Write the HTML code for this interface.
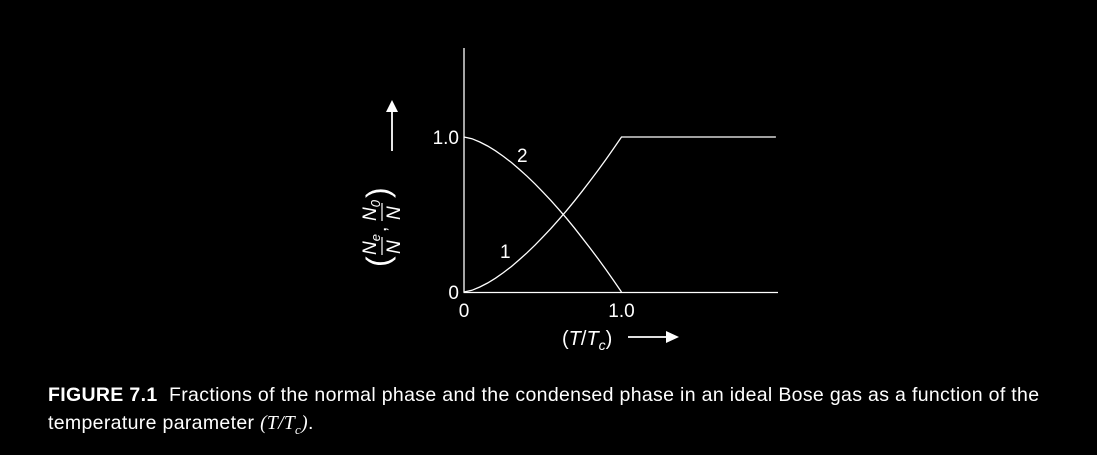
<!DOCTYPE html>
<html><head><meta charset="utf-8"><style>
html,body{margin:0;padding:0;background:#000;width:1097px;height:455px;overflow:hidden}
svg text{font-family:"Liberation Sans",sans-serif;fill:#fff}
.cap{position:absolute;left:48px;top:381px;width:1005px;color:#fff;font-family:"Liberation Sans",sans-serif;font-size:19.5px;line-height:28px;letter-spacing:0.33px}
</style></head><body>
<svg width="1097" height="380" style="position:absolute;left:0;top:0">
<g id="g"></g>
</svg>
<div class="cap"><b>FIGURE 7.1</b>&nbsp; Fractions of the normal phase and the condensed phase in an ideal Bose gas as a function of the temperature parameter <span style="font-family:'Liberation Serif',serif;font-style:italic">(T/T<sub style="font-size:13px">c</sub>)</span>.</div>
<script>
const tValues=[0,0.05,0.1,0.15,0.2,0.25,0.3,0.35,0.4,0.45,0.5,0.55,0.6,0.65,0.7,0.75,0.8,0.85,0.9,0.95,1.0,1.98];
const normalFraction=[0,0.011,0.032,0.058,0.089,0.125,0.164,0.207,0.253,0.302,0.354,0.408,0.465,0.524,0.586,0.650,0.716,0.784,0.854,0.926,1.0,1.0];
const condensedTValues=[0,0.05,0.1,0.15,0.2,0.25,0.3,0.35,0.4,0.45,0.5,0.55,0.6,0.65,0.7,0.75,0.8,0.85,0.9,0.95,1.0];
const condensedFraction=[1,0.989,0.968,0.942,0.911,0.875,0.836,0.793,0.747,0.698,0.646,0.592,0.535,0.476,0.414,0.350,0.284,0.216,0.146,0.074,0];
const xTicks=["0","1.0"];const xTickVals=[0,1];
const yTicks=["0","1.0"];const yTickVals=[0,1];
const X=t=>464+t*157.5, Y=v=>292-v*155;
const NS="http://www.w3.org/2000/svg", g=document.getElementById('g');
function mk(tag,a){const e=document.createElementNS(NS,tag);for(const k in a)e.setAttribute(k,a[k]);g.appendChild(e);return e;}
let e;
e=mk('line',{x1:464,y1:48,x2:464,y2:292.5,stroke:'#fff','stroke-width':1.3});

e=mk('line',{x1:463.5,y1:292.5,x2:778,y2:292.5,stroke:'#fff','stroke-width':1.3});

xTickVals.forEach((v,i)=>{e=mk('text',{x:X(v),y:317,'font-size':19,'text-anchor':'middle'});e.textContent=xTicks[i];
});
yTickVals.forEach((v,i)=>{e=mk('text',{x:459,y:Y(v)+7,'font-size':19,'text-anchor':'end'});e.textContent=yTicks[i];
});
function path(xs,ys){return xs.map((t,i)=>(i?'L':'M')+X(t).toFixed(1)+','+Y(ys[i]).toFixed(1)).join('');}
e=mk('path',{d:path(tValues,normalFraction),fill:'none',stroke:'#fff','stroke-width':1.3});

e=mk('path',{d:path(condensedTValues,condensedFraction),fill:'none',stroke:'#fff','stroke-width':1.3});

e=mk('text',{x:500,y:258,'font-size':19});e.textContent='1';

e=mk('text',{x:517,y:162,'font-size':19});e.textContent='2';

</script>
<svg width="1097" height="380" style="position:absolute;left:0;top:0">
<g transform="translate(382,225) rotate(-90)" font-family="Liberation Sans,sans-serif" fill="#fff">
<text x="-42" y="7" font-size="32" fill="#fff">(</text>
<text x="-30" y="-6" font-size="19" font-style="italic" fill="#fff">N<tspan font-size="13" dy="4">e</tspan></text>
<line x1="-30" y1="0" x2="-12" y2="0" stroke="#fff" stroke-width="1.2"/>
<text x="-29" y="18" font-size="19" font-style="italic" fill="#fff">N</text>
<text x="-7" y="4" font-size="19" fill="#fff">,</text>
<text x="4" y="-6" font-size="19" font-style="italic" fill="#fff">N<tspan font-size="13" dy="4">0</tspan></text>
<line x1="4" y1="0" x2="22" y2="0" stroke="#fff" stroke-width="1.2"/>
<text x="5" y="18" font-size="19" font-style="italic" fill="#fff">N</text>
<text x="27" y="7" font-size="32" fill="#fff">)</text>
</g>
<line x1="392" y1="151" x2="392" y2="110" stroke="#fff" stroke-width="1.8"/>
<polygon points="386,112 398,112 392,100" fill="#fff"/>
<text x="562" y="345" font-size="20" fill="#fff" font-family="Liberation Sans,sans-serif">(<tspan font-style="italic">T</tspan>/<tspan font-style="italic">T</tspan><tspan font-size="14" dy="5" font-style="italic">c</tspan><tspan dy="-5">)</tspan></text>
<line x1="628" y1="337" x2="668" y2="337" stroke="#fff" stroke-width="1.8"/>
<polygon points="666,331 666,343 679,337" fill="#fff"/>
</svg>
</body></html>
